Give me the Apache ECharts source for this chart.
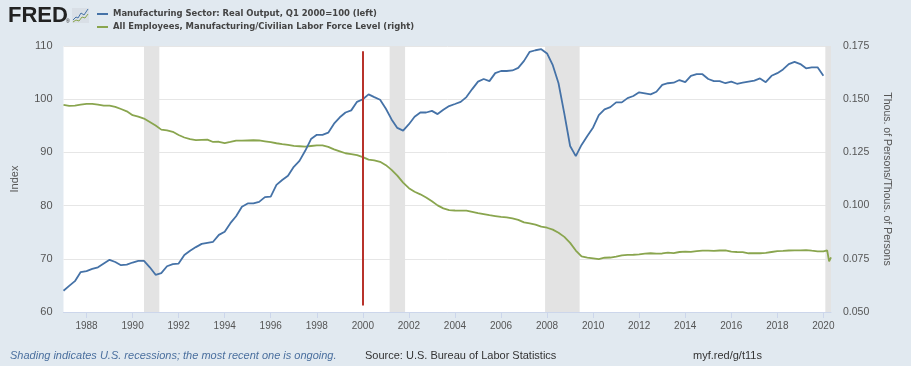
<!DOCTYPE html>
<html>
<head>
<meta charset="utf-8">
<script src="https://cdn.jsdelivr.net/npm/echarts@6/dist/echarts.min.js"></script>
<style>
html,body{margin:0;padding:0;background:#e1e9f0;}
#c{width:911px;height:366px;}
</style>
</head>
<body>
<div id="c"></div>
<script>
// ---- DATA ----
const startYear = 1987; // quarterly series start (Q1 1987)
// Manufacturing Sector: Real Output, Q1 2000=100 (quarterly, 1987Q1 .. 2020Q1)
const outputIndex = [
 64.0,64.9,65.8,67.5, 67.7,68.1,68.4,69.1, 69.8,69.4,68.8,68.9, 69.3,69.6,69.6,68.4,
 67.0,67.3,68.6,69.0, 69.1,70.7,71.5,72.2, 72.8,73.0,73.2,74.5, 75.1,76.7,78.0,79.8,
 80.4,80.4,80.7,81.6, 81.7,83.9,84.8,85.6, 87.3,88.4,90.3,92.5, 93.3,93.3,93.7,95.4,
 96.6,97.5,97.9,99.5, 100.0,100.9,100.4,99.9, 98.2,96.2,94.6,94.1, 95.3,96.7,97.5,97.5,
 97.8,97.2,98.0,98.7, 99.1,99.5,100.4,101.9, 103.3,103.8,103.4,104.9, 105.3,105.3,105.4,105.9,
 107.2,108.9,109.2,109.4, 108.6,106.4,103.0,97.3, 91.2,89.3,91.4,93.1, 94.7,97.0,98.1,98.5,
 99.4,99.4,100.2,100.6, 101.3,101.1,100.9,101.4, 102.7,103.0,103.1,103.6, 103.2,104.4,104.7,104.7,
 103.8,103.4,103.4,103.0, 103.3,102.9,103.1,103.3, 103.5,103.9,103.2,104.4, 104.9,105.6,106.6,107.0,
 106.6,105.8,106.0,106.0, 104.4
];
// All Employees, Manufacturing / Civilian Labor Force (read at quarter starts, 1987Q1 .. 2020Q1)
const empRatio = [
 0.1473,0.1469,0.1470,0.1474, 0.1478,0.1478,0.1475,0.1470, 0.1470,0.1464,0.1454,0.1443, 0.1425,0.1418,0.1409,0.1393,
 0.1376,0.1357,0.1353,0.1347, 0.1332,0.1320,0.1312,0.1308, 0.1309,0.1310,0.1299,0.1300, 0.1294,0.1299,0.1305,0.1305,
 0.1306,0.1307,0.1306,0.1302, 0.1298,0.1293,0.1289,0.1285, 0.1281,0.1279,0.1277,0.1280, 0.1283,0.1283,0.1276,0.1264,
 0.1255,0.1246,0.1242,0.1237, 0.1228,0.1216,0.1213,0.1206, 0.1190,0.1168,0.1141,0.1108, 0.1082,0.1065,0.1053,0.1038,
 0.1020,0.1001,0.0987,0.0979, 0.0977,0.0976,0.0976,0.0971, 0.0965,0.0960,0.0955,0.0951, 0.0947,0.0945,0.0940,0.0933,
 0.0921,0.0916,0.0911,0.0901, 0.0896,0.0887,0.0872,0.0853, 0.0825,0.0789,0.0761,0.0756, 0.0752,0.0748,0.0755,0.0756,
 0.0760,0.0766,0.0768,0.0769, 0.0771,0.0774,0.0776,0.0774, 0.0775,0.0779,0.0777,0.0782, 0.0784,0.0783,0.0786,0.0788,
 0.0788,0.0787,0.0789,0.0790, 0.0784,0.0782,0.0781,0.0776, 0.0776,0.0776,0.0778,0.0782, 0.0786,0.0787,0.0789,0.0790,
 0.0790,0.0791,0.0788,0.0785, 0.0785
];
// monthly tail of the employment ratio in 2020
const empTailDates = ['2020-02-01','2020-03-01','2020-04-01','2020-05-01'];
const empTailValues = [0.0785,0.0790,0.0738,0.0757];
// recessions
const recessions = [['1990-07-01','1991-03-01'],['2001-03-01','2001-11-01'],['2007-12-01','2009-06-01'],['2020-02-01','2020-05-01']];
// vertical marker
const markerDate = '2000-01-01';
const markerRange = [109.0, 61.2];
// axes
const xMin = '1987-01-01', xMax = '2020-05-01';
const yearTicks = [1988,1990,1992,1994,1996,1998,2000,2002,2004,2006,2008,2010,2012,2014,2016,2018,2020];
const leftAxis = {min:60, max:110, interval:10};
const rightAxis = {min:0.05, max:0.175, interval:0.025};
const seriesNames = ['Manufacturing Sector: Real Output, Q1 2000=100 (left)','All Employees, Manufacturing/Civilian Labor Force Level (right)'];

// ---- BUILD ----
function ts(s){const p=s.split('-');return Date.UTC(+p[0],+p[1]-1,+p[2]);}
function qDate(i){const y=startYear+Math.floor(i/4);const m=(i%4)*3;return Date.UTC(y,m,1);}
const blueData = outputIndex.map((v,i)=>[qDate(i),v]);
const greenData = empRatio.map((v,i)=>[qDate(i),v]).concat(empTailDates.map((d,i)=>[ts(d),empTailValues[i]]));
const tickTs = yearTicks.map(y=>Date.UTC(y,0,1));

const FONT = '"Liberation Sans",Arial,sans-serif';
const chart = echarts.init(document.getElementById('c'), null, {renderer:'canvas'});
chart.setOption({
  backgroundColor:'#e1e9f0',
  animation:false,
  grid:{left:63.5, right:80, top:46, bottom:54, show:true, backgroundColor:'#ffffff', borderWidth:0},
  legend:{
    orient:'vertical', left:92, top:4, itemWidth:11, itemHeight:2, itemGap:3, icon:'rect',
    textStyle:{fontFamily:'"DejaVu Sans Condensed","DejaVu Sans",sans-serif', fontWeight:'bold', fontSize:9.4, color:'#444', lineHeight:10},
    data:seriesNames
  },
  xAxis:{
    type:'value', min:ts(xMin), max:ts(xMax),
    axisLine:{show:true, lineStyle:{color:'#ccd6eb'}},
    axisTick:{show:true, customValues:tickTs, length:6, lineStyle:{color:'#ccd6eb'}},
    axisLabel:{customValues:tickTs, formatter:v=>String(new Date(v).getUTCFullYear()), color:'#555', fontFamily:FONT, fontSize:10, margin:9},
    splitLine:{show:false}
  },
  yAxis:[
    {type:'value', min:leftAxis.min, max:leftAxis.max, interval:leftAxis.interval, position:'left',
     name:'Index', nameLocation:'middle', nameGap:43, nameRotate:90,
     nameTextStyle:{color:'#555', fontFamily:FONT, fontSize:11},
     axisLine:{show:false}, axisTick:{show:false},
     axisLabel:{color:'#555', fontFamily:FONT, fontSize:11, margin:11},
     splitLine:{show:true, lineStyle:{color:'#e6e6e6', width:1}}},
    {type:'value', min:rightAxis.min, max:rightAxis.max, interval:rightAxis.interval, position:'right',
     name:'Thous. of Persons/Thous. of Persons', nameLocation:'middle', nameGap:50, nameRotate:-90,
     nameTextStyle:{color:'#555', fontFamily:FONT, fontSize:10.5},
     axisLine:{show:false}, axisTick:{show:false},
     axisLabel:{color:'#555', fontFamily:FONT, fontSize:10.5, margin:12, formatter:v=>v.toFixed(3)},
     splitLine:{show:false}}
  ],
  series:[
    {name:seriesNames[0], type:'line', yAxisIndex:0, data:blueData, showSymbol:false, symbol:'none',
     lineStyle:{color:'#4572a7', width:1.8}, itemStyle:{color:'#4572a7'}, z:3,
     markArea:{silent:true, itemStyle:{color:'#e3e3e3'}, data:recessions.map(r=>[{xAxis:ts(r[0])},{xAxis:ts(r[1])}])},
     markLine:{silent:true, symbol:['none','none'], label:{show:false}, lineStyle:{color:'#b8322b', width:2, type:'solid'},
       data:[[{coord:[ts(markerDate), markerRange[0]]},{coord:[ts(markerDate), markerRange[1]]}]]}
    },
    {name:seriesNames[1], type:'line', yAxisIndex:1, data:greenData, showSymbol:false, symbol:'none',
     lineStyle:{color:'#89a54e', width:1.8}, itemStyle:{color:'#89a54e'}, z:2}
  ],
  graphic:[
    {type:'text', left:8, top:5, style:{text:'FRED', font:'bold 22px "Liberation Sans", Arial, sans-serif', fill:'#222'}},
    {type:'text', left:66, top:19, style:{text:'®', font:'5px "Liberation Sans", sans-serif', fill:'#222'}},
    {type:'rect', shape:{x:72, y:8, width:17, height:15}, style:{fill:'#d9dfe6'}},
    {type:'polyline', shape:{points:[[73,20],[76,17],[78,18],[81,13],[84,15],[88,9]]}, style:{stroke:'#4572a7', lineWidth:1, fill:null}},
    {type:'polyline', shape:{points:[[73,22],[76,20],[79,21],[82,17],[85,18],[88,14]]}, style:{stroke:'#89a54e', lineWidth:1, fill:null}},
    {type:'text', left:10, top:350, style:{text:'Shading indicates U.S. recessions; the most recent one is ongoing.', font:'italic 11px "Liberation Sans", sans-serif', fill:'#4a6f9e'}},
    {type:'text', left:365, top:350, style:{text:'Source: U.S. Bureau of Labor Statistics', font:'11px "Liberation Sans", sans-serif', fill:'#333'}},
    {type:'text', left:693, top:350, style:{text:'myf.red/g/t11s', font:'11px "Liberation Sans", sans-serif', fill:'#333'}}
  ]
});
</script>
</body>
</html>
